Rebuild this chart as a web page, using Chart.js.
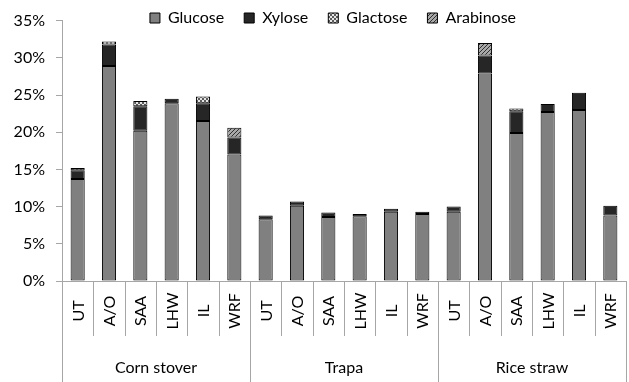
<!DOCTYPE html>
<html>
<head>
 <title>Sugar Yield by Pretreatment</title>
 <script src="https://cdn.jsdelivr.net/npm/chart.js"></script>
 <style>
  body { margin: 0; background: #fff; }
  #chart-container { width: 629px; height: 382px; position: relative; }
 </style>
</head>
<body>
 <div id="chart-container">
  <canvas id="sugarChart"></canvas>
 </div>

 <script>
  // Pretreatments repeated for each feedstock
  const groups = ['Corn stover', 'Trapa', 'Rice straw'];
  const treatments = ['UT', 'A/O', 'SAA', 'LHW', 'IL', 'WRF'];
  const categories = groups.flatMap(() => treatments);

  // Sugar yields in %
  const glucose   = [13.7, 28.9, 20.2, 23.9, 21.5, 17.0,  8.3, 10.1, 8.6, 8.7, 9.3, 9.0,  9.3, 27.9, 19.9, 22.7, 23.0, 8.8];
  const xylose    = [ 1.2,  2.9,  3.3,  0.6,  2.4,  2.3,  0.5,  0.6, 0.6, 0.3, 0.4, 0.3,  0.7,  2.4,  2.9,  1.1,  2.3, 1.3];
  const glactose  = [ 0.3,  0.4,  0.7,  0,    0.9,  0,    0,    0,   0,   0,   0,   0,    0,    0,    0.4,  0,    0,   0];
  const arabinose = [ 0,    0,    0,    0,    0,    1.3,  0,    0,   0,   0,   0,   0,    0,    1.7,  0,    0,    0,   0];

  const yTicks = [0, 5, 10, 15, 20, 25, 30, 35];

  const FONT = 'Lato, "Liberation Sans", sans-serif';
  const LINE = '#a6a6a6';

  // small fill patterns for the minor sugars
  function makePattern(kind) {
   const c = document.createElement('canvas');
   c.width = 4; c.height = 4;
   const g = c.getContext('2d');
   if (kind === 'check') {
    g.fillStyle = '#e6e6e6'; g.fillRect(0, 0, 4, 4);
    g.fillStyle = '#5c5c5c';
    g.fillRect(0, 0, 2, 2); g.fillRect(2, 2, 2, 2);
   } else {
    g.fillStyle = '#a8a8a8'; g.fillRect(0, 0, 4, 4);
    g.fillStyle = '#303030';
    for (let i = 0; i < 4; i++) g.fillRect(i, 3 - i, 1, 1);
   }
   return g.createPattern(c, 'repeat');
  }

  function series(label, values, color) {
   return {
    label: label,
    data: values.map(v => v || null),
    backgroundColor: color,
    borderColor: '#000',
    borderWidth: 1,
    borderSkipped: false,
    barPercentage: 0.45,
    categoryPercentage: 1
   };
  }

  // category and group labels under the axis, Excel style
  const xLabels = {
   id: 'xLabels',
   beforeLayout(chart) {
    // legend overlaps the plot like in Excel: take no room in the layout
    const lg = chart.legend;
    if (lg && !lg._flat) {
     const fit = lg.fit;
     lg.fit = function () { fit.call(this); this._realHeight = this.height; this.height = 0; };
     lg._flat = true;
    }
   },
   afterLayout(chart) {
    const lg = chart.legend;
    lg.top = -10;
    lg.bottom = lg.top + lg._realHeight;
    lg.left += 20;
    lg.right += 20;
   },
   afterDraw(chart) {
    const {ctx, chartArea, scales: {x}} = chart;
    const w = x.getPixelForValue(1) - x.getPixelForValue(0);
    const y0 = chartArea.bottom;
    ctx.save();
    ctx.strokeStyle = LINE;
    ctx.lineWidth = 1;
    for (let i = 0; i <= categories.length; i++) {
     const bx = Math.round(x.getPixelForValue(i) - w / 2) + 0.5;
     const isGroup = i % treatments.length === 0;
     ctx.beginPath();
     ctx.moveTo(bx, y0);
     ctx.lineTo(bx, isGroup ? chart.height : y0 + 55);
     ctx.stroke();
    }
    ctx.fillStyle = '#000';
    ctx.font = '16px ' + FONT;
    ctx.textAlign = 'center';
    ctx.textBaseline = 'middle';
    categories.forEach((c, i) => {
     ctx.save();
     ctx.translate(x.getPixelForValue(i) + 1, y0 + 30);
     ctx.rotate(-Math.PI / 2);
     ctx.fillText(c, 0, 0);
     ctx.restore();
    });
    groups.forEach((g, k) => {
     const a = x.getPixelForValue(k * treatments.length);
     const b = x.getPixelForValue((k + 1) * treatments.length - 1);
     ctx.fillText(g, (a + b) / 2, y0 + 87);
    });
    ctx.restore();
   }
  };

  const ctx = document.getElementById('sugarChart').getContext('2d');
  const chart = new Chart(ctx, {
   type: 'bar',
   data: {
    labels: categories,
    datasets: [
     series('Glucose', glucose, '#808080'),
     series('Xylose', xylose, '#262626'),
     series('Glactose', glactose, makePattern('check')),
     series('Arabinose', arabinose, makePattern('hatch'))
    ]
   },
   options: {
    responsive: true,
    maintainAspectRatio: false,
    animation: false,
    layout: { padding: { top: 12, right: 3, left: 0, bottom: 0 } },
    plugins: {
     legend: {
      position: 'top',
      align: 'center',
      labels: {
       font: { family: FONT, size: 16 },
       color: '#000',
       boxWidth: 10,
       boxHeight: 10,
       padding: 20
      }
     },
     tooltip: { enabled: false }
    },
    scales: {
     x: {
      stacked: true,
      grid: { display: false },
      border: { color: LINE },
      ticks: { display: false },
      afterFit: s => { s.height = 101; }
     },
     y: {
      stacked: true,
      min: 0,
      max: 35,
      afterBuildTicks: s => { s.ticks = yTicks.map(v => ({ value: v })); },
      grid: { drawOnChartArea: false, tickLength: 6, color: LINE },
      border: { color: LINE },
      ticks: {
       font: { family: FONT, size: 16 },
       color: '#000',
       padding: 11,
       callback: v => v + '%'
      },
      afterFit: s => { s.width = 62; }
     }
    }
   },
   plugins: [xLabels]
  });
 </script>
</body>
</html>
